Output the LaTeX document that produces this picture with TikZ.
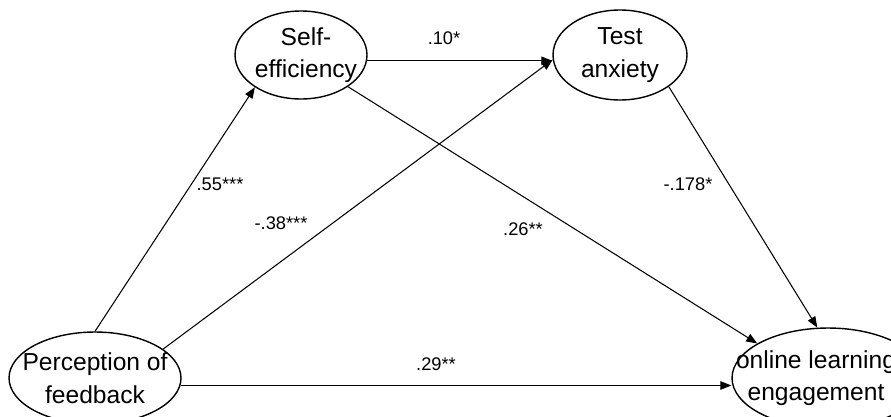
\documentclass[tikz,border=0pt]{standalone}
\usepackage{fontspec}
\setmainfont{Liberation Sans}
\usetikzlibrary{arrows.meta, shapes.geometric}

\begin{document}
\begin{tikzpicture}[
    x=0.02cm, y=-0.02cm,
    latent/.style={ellipse, draw, line width=0.8pt, inner sep=0pt},
    txt/.style={font=\fontsize{14}{18.5}\selectfont, align=center, inner sep=0pt},
    coef/.style={font=\fontsize{10.4}{12}\selectfont, inner sep=0pt},
    arr/.style={-{Triangle[length=2.2mm, width=1.7mm]}, line width=0.6pt},
]
\useasboundingbox (0,0) rectangle (891,416);

% ========== LATENT VARIABLES ==========
\node[latent, minimum width=3.44cm, minimum height=1.84cm,
      label={[txt]center:{Perception of\\feedback}}] at (95,378) (perc) {};
\node[latent, minimum width=2.64cm, minimum height=1.76cm,
      label={[txt, xshift=0.1cm]center:{Self-\\efficiency}}] at (301,55) (self) {};
\node[latent, minimum width=2.68cm, minimum height=1.8cm,
      label={[txt]center:{Test\\anxiety}}] at (620,55) (test) {};
\node[latent, minimum width=3.84cm, minimum height=2.0cm,
      label={[txt, xshift=-0.24cm]center:{online learning\\engagement}}] at (828,378) (eng) {};

% ========== PATHS ==========
\draw[arr] (perc.north) -- (self.215);
\draw[arr] (perc.23) -- (test.184);
\draw[arr] (self.-5) -- (self.-5 -| test.west);
\draw[arr] (self.-34) -- (eng.154);
\draw[arr] (test.-33) -- (eng.102);
\draw[arr] (perc.-5) -- (perc.-5 -| eng.west);

% ========== COEFFICIENTS ==========
\node[coef] at (444,38) (c_st) {.10*};
\node[coef] at (220,184) (c_ps) {.55***};
\node[coef] at (281,223) (c_pt) {-.38***};
\node[coef] at (523,229) (c_se) {.26**};
\node[coef] at (688,184) (c_te) {-.178*};
\node[coef] at (436,364) (c_pe) {.29**};

\end{tikzpicture}
\end{document}
